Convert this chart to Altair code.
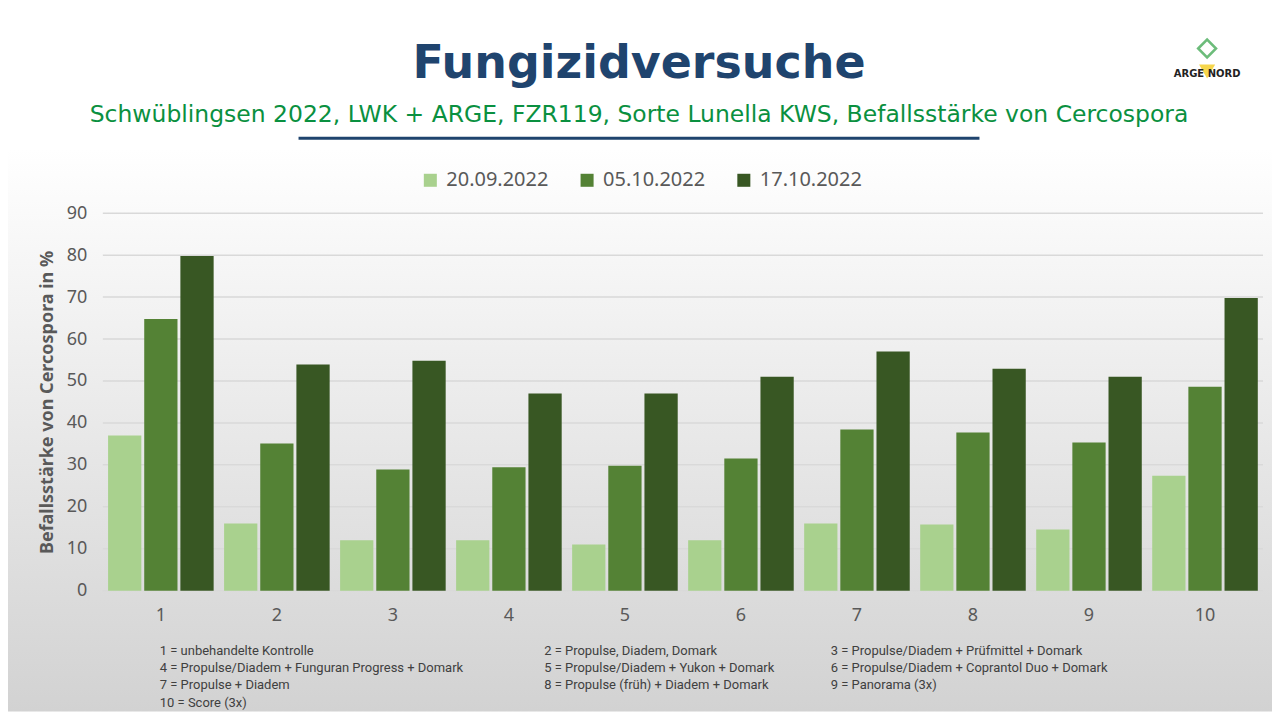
import altair as alt
import pandas as pd

# Daten: Befallsstärke von Cercospora (%) je Variante und Boniturtermin
varianten = ["1", "2", "3", "4", "5", "6", "7", "8", "9", "10"]
termine = ["20.09.2022", "05.10.2022", "17.10.2022"]
werte_2009 = [37, 16, 12, 12, 11, 12, 16, 15.8, 14.6, 27.4]
werte_0510 = [64.8, 35.1, 28.9, 29.4, 29.8, 31.5, 38.4, 37.7, 35.3, 48.6]
werte_1710 = [79.8, 53.9, 54.8, 47, 47, 51, 57, 52.9, 51, 69.8]
farben = ["#a9d18e", "#548235", "#385723"]
y_ticks = [0, 10, 20, 30, 40, 50, 60, 70, 80, 90]

fussnoten_1 = ["1 = unbehandelte Kontrolle",
               "4 = Propulse/Diadem + Funguran Progress + Domark",
               "7 = Propulse + Diadem",
               "10 = Score (3x)"]
fussnoten_2 = ["2 = Propulse, Diadem, Domark",
               "5 = Propulse/Diadem + Yukon + Domark",
               "8 = Propulse (früh) + Diadem + Domark"]
fussnoten_3 = ["3 = Propulse/Diadem + Prüfmittel + Domark",
               "6 = Propulse/Diadem + Coprantol Duo + Domark",
               "9 = Panorama (3x)"]

titel = "Fungizidversuche"
untertitel = "Schwüblingsen 2022, LWK + ARGE, FZR119, Sorte Lunella KWS, Befallsstärke von Cercospora"

# Tabelle im Langformat
rows = []
for termin, werte in zip(termine, [werte_2009, werte_0510, werte_1710]):
    for v, w in zip(varianten, werte):
        rows.append({"Variante": v, "Termin": termin, "Wert": w})
df = pd.DataFrame(rows)
grid_df = pd.DataFrame({"Wert": y_ticks})

W, H = 1162, 378
PAD = {"left": 95, "top": 205, "right": 9, "bottom": 121}
one = pd.DataFrame({"a": [0]})

y_scale = alt.Scale(domain=[0, 90])

# Hintergrund mit Verlauf (weiß -> grau)
hintergrund = alt.Chart(one).mark_rect(
    fill=alt.Gradient(
        gradient="linear", x1=0, x2=0, y1=0, y2=1,
        stops=[alt.GradientStop(color="#ffffff", offset=0),
               alt.GradientStop(color="#ffffff", offset=0.2),
               alt.GradientStop(color="#d2d2d2", offset=1)])
).encode(x=alt.value(-PAD["left"]), x2=alt.value(W + PAD["right"]),
         y=alt.value(-PAD["top"]), y2=alt.value(H + PAD["bottom"]))

# Gitterlinien hinter den Säulen
gitter = alt.Chart(grid_df).mark_rule(color="#d9d9d9", strokeWidth=1.5).encode(
    y=alt.Y("Wert:Q", scale=y_scale),
    x=alt.value(0), x2=alt.value(W))

# Säulen, gruppiert nach Termin
balken = alt.Chart(df).mark_bar().encode(
    x=alt.X("Variante:N", sort=varianten, title=None,
            scale=alt.Scale(paddingInner=0.09, paddingOuter=0.045),
            axis=alt.Axis(labelAngle=0, labelFontSize=18, labelColor="#595959",
                          labelFont="Noto Sans", labelPadding=16, zindex=1,
                          domain=False, ticks=False, grid=False)),
    xOffset=alt.XOffset("Termin:N", sort=termine,
                        scale=alt.Scale(paddingInner=0.08)),
    y=alt.Y("Wert:Q", title="Befallsstärke von Cercospora in %",
            scale=y_scale,
            axis=alt.Axis(values=y_ticks, labelFontSize=18, zindex=1,
                          labelColor="#595959", labelFont="Noto Sans",
                          labelPadding=16, domain=False, ticks=False, grid=False,
                          titleFontSize=18, titleFont="Noto Sans",
                          titleFontWeight="bold", titleColor="#595959",
                          titlePadding=10)),
    color=alt.Color("Termin:N", sort=termine,
                    scale=alt.Scale(domain=termine, range=farben),
                    legend=alt.Legend(title=None, orient="none", direction="horizontal",
                                      legendX=318, legendY=-43,
                                      symbolType="square", symbolSize=170,
                                      symbolStrokeWidth=0, labelFontSize=20,
                                      labelFont="Noto Sans", labelColor="#595959",
                                      labelOffset=6, columnPadding=28)),
)

# Überschrift, Untertitel, Linie
kopf = alt.Chart(one).mark_text(
    text=titel, font="DejaVu Sans", fontSize=46, fontWeight="bold",
    color="#1f446e", align="center", baseline="alphabetic"
).encode(x=alt.value(537), y=alt.value(-135))

unter = alt.Chart(one).mark_text(
    text=untertitel, font="DejaVu Sans", fontSize=23.5,
    color="#0a9040", align="center", baseline="alphabetic"
).encode(x=alt.value(537), y=alt.value(-91))

linie = alt.Chart(one).mark_rule(color="#1f446e", strokeWidth=3).encode(
    x=alt.value(196), x2=alt.value(878), y=alt.value(-75))

# Logo (vereinfacht)
logo_text = alt.Chart(one).mark_text(
    text="ARGE   NORD", font="DejaVu Sans", fontSize=10, fontWeight="bold",
    color="#222222", align="center", baseline="middle"
).encode(x=alt.value(1106), y=alt.value(-139))
logo_v = alt.Chart(one).mark_point(
    shape="triangle-down", size=260, filled=True, color="#f2c500"
).encode(x=alt.value(1106), y=alt.value(-142))
logo_blatt = alt.Chart(one).mark_point(
    shape="diamond", size=320, filled=False, strokeWidth=2.5, color="#2ea043"
).encode(x=alt.value(1106), y=alt.value(-165))

# Fußnoten in drei Spalten
def spalte(zeilen, x):
    return alt.Chart(one).mark_text(
        text=zeilen, font="Roboto", fontSize=13, lineHeight=17.5,
        color="#404040", align="left", baseline="middle"
    ).encode(x=alt.value(x), y=alt.value(438))

chart = alt.layer(
    hintergrund, gitter, balken, kopf, unter, linie, logo_blatt, logo_v, logo_text,
    spalte(fussnoten_1, 57), spalte(fussnoten_2, 442), spalte(fussnoten_3, 729)
).properties(
    width=W, height=H, padding=PAD, autosize="none", background="#ffffff"
).configure_view(strokeWidth=0)

chart.save("out.html", embed_options={"renderer": "svg", "actions": False})
